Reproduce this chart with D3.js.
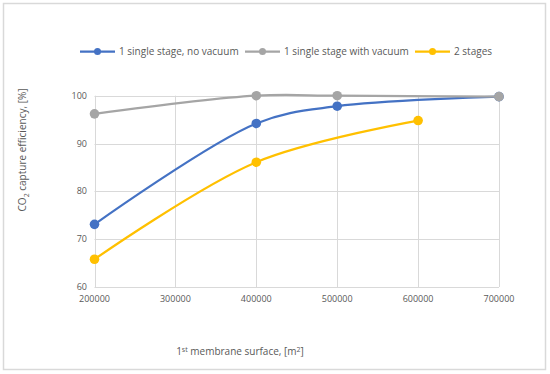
<!DOCTYPE html>
<html><head><meta charset="utf-8">
<script src="https://cdn.jsdelivr.net/npm/d3@7"></script>
<style>body{margin:0;background:#fff;} text{font-family:"Open Sans","Liberation Sans",sans-serif;}</style>
</head><body>
<svg id="c" width="550" height="374"></svg>
<script>
const seriesNames = ["1 single stage, no vacuum", "1 single stage with vacuum", "2 stages"];
const seriesColors = ["#4472C4", "#A5A5A5", "#FFC000"];
const xNoVac = [200000, 400000, 500000, 700000];
const yNoVac = [73.1, 94.2, 97.8, 99.8];
const xVac = [200000, 400000, 500000, 700000];
const yVac = [96.2, 100, 100, 99.8];
const x2Stage = [200000, 400000, 600000];
const y2Stage = [65.8, 86.1, 94.8];
const xTicks = [200000, 300000, 400000, 500000, 600000, 700000];
const yTicks = [60, 70, 80, 90, 100];

const svg = d3.select("#c");
svg.append("rect").attr("x",3.5).attr("y",3.5).attr("width",542).attr("height",366)
  .attr("fill","#fff").attr("stroke","#d9d9d9").attr("stroke-width",1.5);

const x = d3.scaleLinear().domain([200000,700000]).range([94.5,499]);
const y = d3.scaleLinear().domain([60,100]).range([287,95.7]);

const g = svg.append("g");
// grid
g.selectAll(".vg").data(xTicks).join("line")
  .attr("x1",d=>Math.round(x(d))+0.5).attr("x2",d=>Math.round(x(d))+0.5)
  .attr("y1",y(100)).attr("y2",y(60)).attr("stroke","#d9d9d9").attr("stroke-width",1);
g.selectAll(".hg").data(yTicks).join("line")
  .attr("y1",d=>Math.round(y(d))+0.5).attr("y2",d=>Math.round(y(d))+0.5)
  .attr("x1",x(200000)).attr("x2",x(700000)).attr("stroke","#d9d9d9").attr("stroke-width",1);

// tick labels
g.selectAll(".yl").data(yTicks).join("text")
  .attr("x",87).attr("y",d=>y(d)+3).attr("text-anchor","end")
  .attr("font-size",9).attr("fill","#595959").text(d=>d);
g.selectAll(".xl").data(xTicks).join("text")
  .attr("x",d=>x(d)).attr("y",302).attr("text-anchor","middle")
  .attr("font-size",9).attr("fill","#595959").text(d=>d);

const series = [
  {xs:xNoVac, ys:yNoVac},
  {xs:xVac, ys:yVac},
  {xs:x2Stage, ys:y2Stage}
];
const line = d3.line().x(d=>x(d[0])).y(d=>y(d[1])).curve(d3.curveCatmullRom.alpha(0.5));
const drawOrder = [2,0,1];
drawOrder.forEach(i=>{
  const s = series[i];
  const pts = s.xs.map((v,j)=>[v,s.ys[j]]);
  g.append("path").attr("d",line(pts)).attr("fill","none")
    .attr("stroke",seriesColors[i]).attr("stroke-width",2.25);
  g.selectAll(null).data(pts).join("circle")
    .attr("cx",d=>x(d[0])).attr("cy",d=>y(d[1])).attr("r",4.8)
    .attr("fill",seriesColors[i]);
});

// legend
const legX = [80, 245, 415];
const lg = svg.append("g");
seriesNames.forEach((n,i)=>{
  lg.append("line").attr("x1",legX[i]).attr("x2",legX[i]+35).attr("y1",51.5).attr("y2",51.5)
    .attr("stroke",seriesColors[i]).attr("stroke-width",2.25);
  lg.append("circle").attr("cx",legX[i]+17.5).attr("cy",51.5).attr("r",3.5).attr("fill",seriesColors[i]);
  lg.append("text").attr("x",legX[i]+39).attr("y",55).attr("font-size",10)
    .attr("fill","#595959").text(n);
});

// axis titles
const yt = svg.append("text").attr("transform","translate(26,150) rotate(-90)")
  .attr("text-anchor","middle").attr("font-size",10).attr("fill","#595959");
yt.append("tspan").text("CO");
yt.append("tspan").attr("font-size",7).attr("dy",2.5).text("2");
yt.append("tspan").attr("dy",-2.5).text(" capture efficiency, [%]");

const xt = svg.append("text").attr("x",240).attr("y",355)
  .attr("text-anchor","middle").attr("font-size",10).attr("fill","#595959");
xt.append("tspan").text("1");
xt.append("tspan").attr("font-size",7).attr("dy",-3.5).text("st");
xt.append("tspan").attr("dy",3.5).text(" membrane surface, [m");
xt.append("tspan").attr("font-size",7).attr("dy",-3.5).text("2");
xt.append("tspan").attr("dy",3.5).text("]");
</script>
</body></html>
